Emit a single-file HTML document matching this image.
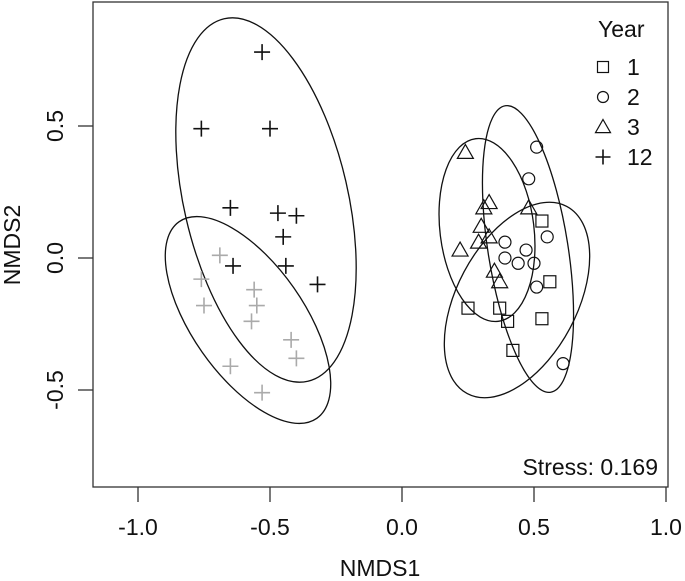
<!DOCTYPE html>
<html><head><meta charset="utf-8"><style>body{margin:0;background:#fff}svg{display:block;font-family:"Liberation Sans",sans-serif}</style></head>
<body>
<svg id="c" width="685" height="581"></svg>
<script>
const plusBlack=[[-0.53,0.78],[-0.76,0.49],[-0.50,0.49],[-0.65,0.19],[-0.47,0.17],[-0.40,0.16],[-0.45,0.08],[-0.64,-0.03],[-0.44,-0.03],[-0.32,-0.10]];
const plusGrey=[[-0.69,0.01],[-0.76,-0.08],[-0.75,-0.18],[-0.56,-0.12],[-0.55,-0.18],[-0.57,-0.24],[-0.42,-0.31],[-0.40,-0.38],[-0.65,-0.41],[-0.53,-0.51]];
const triangles=[[0.24,0.40],[0.31,0.19],[0.33,0.21],[0.48,0.19],[0.30,0.12],[0.29,0.06],[0.33,0.08],[0.22,0.03],[0.35,-0.05],[0.37,-0.09]];
const circles=[[0.51,0.42],[0.48,0.30],[0.55,0.08],[0.39,0.06],[0.47,0.03],[0.39,0.00],[0.44,-0.02],[0.50,-0.02],[0.51,-0.11],[0.61,-0.40]];
const squares=[[0.53,0.14],[0.56,-0.09],[0.25,-0.19],[0.37,-0.19],[0.40,-0.24],[0.53,-0.23],[0.42,-0.35]];
const xTicks=[-1.0,-0.5,0.0,0.5,1.0];
const yTicks=[-0.5,0.0,0.5];
const X=v=>402+v*264, Y=v=>258-v*264;
const NS="http://www.w3.org/2000/svg", svg=document.getElementById('c');
function mk(t,a,txt){const e=document.createElementNS(NS,t);for(const k in a)e.setAttribute(k,a[k]);if(txt!=null)e.textContent=txt;svg.appendChild(e);return e;}
let e;
e=mk('rect',{x:93,y:2,width:575,height:485,fill:'none',stroke:'#333','stroke-width':1.3});


xTicks.forEach(v=>{
 e=mk('line',{x1:X(v),x2:X(v),y1:487,y2:502,stroke:'#333','stroke-width':1.3});
 
 
 e=mk('text',{x:X(v),y:535,'text-anchor':'middle','font-size':23,fill:'#111'},v.toFixed(1));
 
 
});
yTicks.forEach(v=>{
 e=mk('line',{x1:78,x2:93,y1:Y(v),y2:Y(v),stroke:'#333','stroke-width':1.3});
 
 
 e=mk('text',{x:0,y:0,'text-anchor':'middle','font-size':23,fill:'#111',transform:`translate(63,${Y(v)}) rotate(-90)`},v.toFixed(1));
 
 
});
e=mk('text',{x:380,y:576,'text-anchor':'middle','font-size':23,fill:'#111'},'NMDS1');


e=mk('text',{x:0,y:0,'text-anchor':'middle','font-size':23,fill:'#111',transform:'translate(20,245) rotate(-90)'},'NMDS2');


const ells=[[266,200,186,82,77],[248,320,120,56,55],[487,230,92,47,83],[528,249,145,40,81],[517,300,106,60,-62]];
ells.forEach(p=>{
 e=mk('ellipse',{cx:p[0],cy:p[1],rx:p[2],ry:p[3],fill:'none',stroke:'#111','stroke-width':1.3,transform:`rotate(${p[4]} ${p[0]} ${p[1]})`});
 
 
});
function plus(x,y,c,s){s=s||8;return mk('path',{d:`M${x-s} ${y}H${x+s}M${x} ${y-s}V${y+s}`,stroke:c,'stroke-width':1.6,fill:'none'});}
function tri(x,y,s){s=s||8;return mk('path',{d:`M${x} ${y-s}L${x+s} ${y+s*0.75}L${x-s} ${y+s*0.75}Z`,stroke:'#111','stroke-width':1.2,fill:'none'});}
function circ(x,y,s){s=s||6;return mk('circle',{cx:x,cy:y,r:s,stroke:'#111','stroke-width':1.2,fill:'none'});}
function sq(x,y,s){s=s||6;return mk('rect',{x:x-s,y:y-s,width:2*s,height:2*s,stroke:'#111','stroke-width':1.2,fill:'none'});}
plusBlack.forEach(d=>{e=plus(X(d[0]),Y(d[1]),'#111');
 
 });
plusGrey.forEach(d=>{e=plus(X(d[0]),Y(d[1]),'#aaa');
 
 });
triangles.forEach(d=>{e=tri(X(d[0]),Y(d[1]));
 
 });
circles.forEach(d=>{e=circ(X(d[0]),Y(d[1]));
 
 });
squares.forEach(d=>{e=sq(X(d[0]),Y(d[1]));
 
 });
e=mk('text',{x:598,y:37,'font-size':23,fill:'#111'},'Year');


const lg=[['1',(x,y)=>sq(x,y,5.5)],['2',(x,y)=>circ(x,y,5.5)],['3',(x,y)=>tri(x,y,7.5)],['12',(x,y)=>plus(x,y,'#111',7.5)]];
lg.forEach((l,i)=>{const y=67+i*30;
 e=l[1](603,y);
 
 
 e=mk('text',{x:627,y:y+8,'font-size':23,fill:'#111'},l[0]);
 
 
});
e=mk('text',{x:658,y:475,'text-anchor':'end','font-size':23,fill:'#111'},'Stress: 0.169');


</script>
</body></html>
